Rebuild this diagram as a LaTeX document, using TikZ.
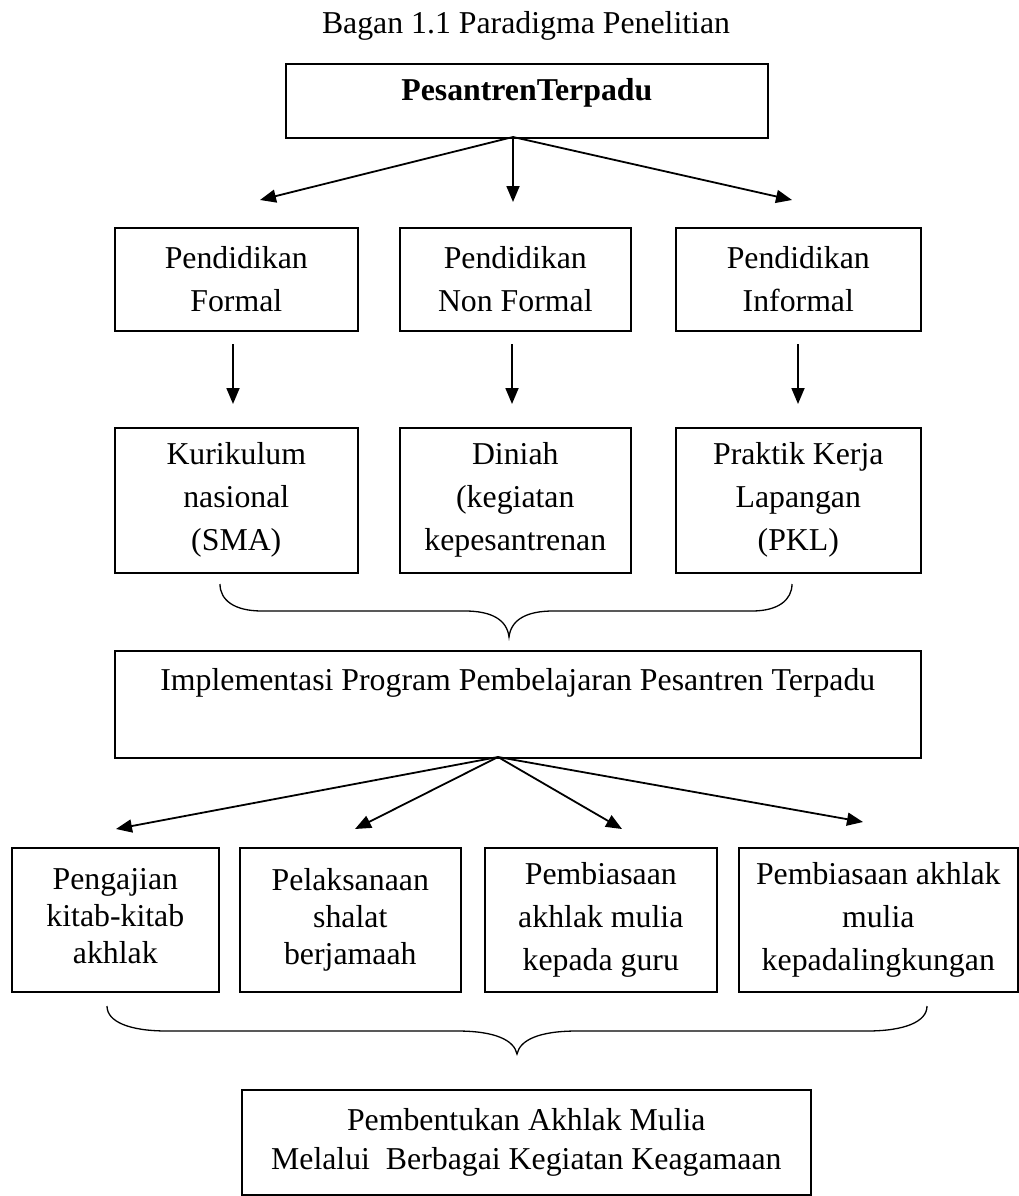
\documentclass[tikz,border=0pt]{standalone}
\usepackage{fontspec}
\setmainfont{Liberation Serif}
\usetikzlibrary{arrows.meta}
\begin{document}
\begin{tikzpicture}[x=1pt,y=-1pt,
  every node/.style={font=\fontsize{31.8}{43}\selectfont},
  box/.style={draw, line width=1.6pt, inner sep=0pt, align=center, anchor=north west},
  tight/.style={font=\fontsize{31.8}{37}\selectfont},
  bottomtxt/.style={font=\fontsize{31.8}{39}\selectfont},
  arr/.style={line width=1.8pt, -{Triangle[length=16pt,width=13pt]}},
  bracepath/.style={line width=1.3pt}]
\useasboundingbox (0,0) rectangle (1019,1196);
\fill[white] (0,0) rectangle (1019,1196);

% title
\node[anchor=base] (title) at (526,34) {Bagan 1.1 Paradigma Penelitian};

% top box
\node[box, minimum width=482pt, text height=37pt, text depth=37pt,
      font={\fontsize{31.8}{43}\selectfont\bfseries}] (top) at (285,63) {PesantrenTerpadu};

% row 1
\node[box, minimum width=243pt, minimum height=103pt] (formal) at (114,227) {Pendidikan\\Formal};
\node[box, minimum width=231pt, minimum height=103pt] (nonformal) at (399,227) {Pendidikan\\Non Formal};
\node[box, minimum width=245pt, minimum height=103pt] (informal) at (675,227) {Pendidikan\\Informal};

% row 2
\node[box, minimum width=243pt, minimum height=145pt] (kur) at (114,427) {Kurikulum\\nasional\\(SMA)};
\node[box, minimum width=231pt, minimum height=145pt] (din) at (399,427) {Diniah\\(kegiatan\\kepesantrenan};
\node[box, minimum width=245pt, minimum height=145pt] (pkl) at (675,427) {Praktik Kerja\\Lapangan\\(PKL)};

% implementation box
\node[box, minimum width=806pt, text height=40pt, text depth=67pt] (impl) at (114,650)
  {Implementasi Program Pembelajaran Pesantren Terpadu};

% bottom row
\node[box, tight, minimum width=207pt, minimum height=144pt] (p1) at (11,847) {Pengajian\\kitab-kitab\\akhlak\vphantom{g}};
\node[box, tight, minimum width=221pt, minimum height=144pt] (p2) at (239,847) {Pelaksanaan\\shalat\\berjamaah};
\node[box, minimum width=232pt, minimum height=144pt] (p3) at (484,847) {Pembiasaan\\akhlak mulia\\kepada guru};
\node[box, minimum width=279pt, minimum height=144pt] (p4) at (738,847) {Pembiasaan akhlak\\mulia\\kepadalingkungan};

% result box
\node[box, bottomtxt, minimum width=569pt, minimum height=105pt] (res) at (241,1089)
  {Pembentukan Akhlak Mulia\\Melalui\ \ Berbagai Kegiatan Keagamaan};

% arrows from top box
\coordinate (o1) at (513,137);
\coordinate (t1) at (260,200);
\coordinate (t2) at (513,202);
\coordinate (t3) at (792,200);
\draw[arr] (o1) -- (t1);
\draw[arr] (o1) -- (t2);
\draw[arr] (o1) -- (t3);

% arrows row 1 -> row 2
\coordinate (a1s) at (233,344); \coordinate (a1e) at (233,404);
\coordinate (a2s) at (512,344); \coordinate (a2e) at (512,404);
\coordinate (a3s) at (798,344); \coordinate (a3e) at (798,404);
\draw[arr] (a1s) -- (a1e);
\draw[arr] (a2s) -- (a2e);
\draw[arr] (a3s) -- (a3e);

% brace 1
\coordinate (b1l) at (220,584);
\coordinate (b1t) at (509,637);
\coordinate (b1r) at (792,584);
\draw[bracepath] (b1l) .. controls (220,600) and (234,611) .. (262,611) -- (465,611)
  .. controls (492,611) and (507,620) .. (b1t)
  .. controls (511,620) and (526,611) .. (553,611) -- (752,611)
  .. controls (778,611) and (792,600) .. (b1r);

% arrows from implementation box
\coordinate (o2) at (498,757);
\coordinate (u1) at (116,829);
\coordinate (u2) at (355,829);
\coordinate (u3) at (622,829);
\coordinate (u4) at (863,822);
\draw[arr] (o2) -- (u1);
\draw[arr] (o2) -- (u2);
\draw[arr] (o2) -- (u3);
\draw[arr] (o2) -- (u4);

% brace 2
\coordinate (b2l) at (107,1006);
\coordinate (b2t) at (517,1054);
\coordinate (b2r) at (927,1006);
\draw[bracepath] (b2l) .. controls (107,1022) and (130,1031) .. (167,1031) -- (457,1031)
  .. controls (495,1031) and (514,1040) .. (b2t)
  .. controls (520,1040) and (539,1031) .. (577,1031) -- (867,1031)
  .. controls (904,1031) and (927,1022) .. (b2r);
\end{tikzpicture}
\end{document}
